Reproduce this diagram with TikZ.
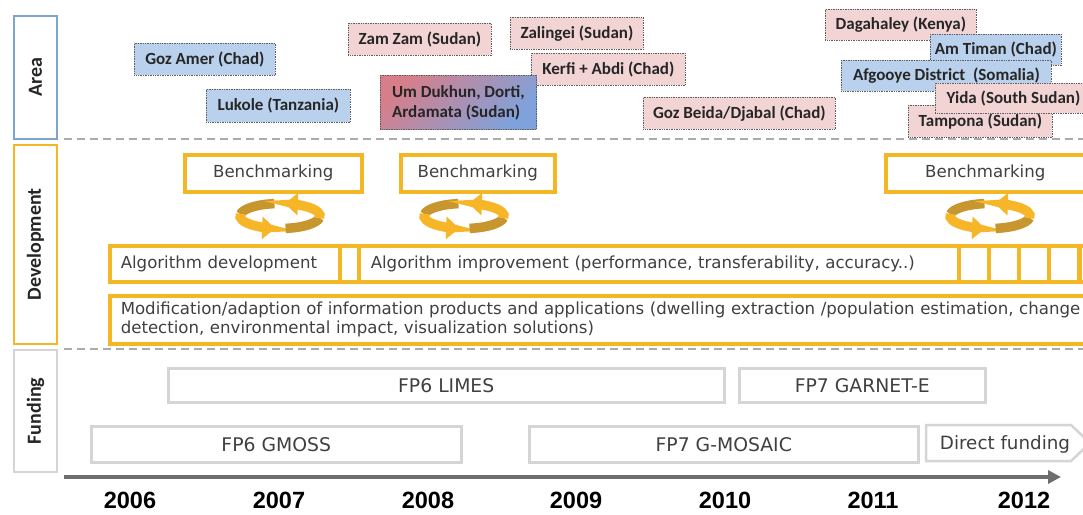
\documentclass[tikz,border=0pt]{standalone}
\usepackage{fontspec}
\setmainfont{DejaVu Sans}
\newfontfamily\calfont{Carlito}
\newfontfamily\yearfont{Liberation Sans}
\usetikzlibrary{arrows.meta}
\definecolor{areablue}{HTML}{7DA5CD}
\definecolor{devyel}{HTML}{F5B626}
\definecolor{fundgray}{HTML}{D5D5D5}
\definecolor{sepgray}{HTML}{ABABAB}
\definecolor{bluefill}{HTML}{B9D1EC}
\definecolor{pinkfill}{HTML}{F2D4D4}
\definecolor{boxedge}{HTML}{5E5E5E}
\definecolor{txtgray}{HTML}{404040}
\definecolor{axgray}{HTML}{6E6E6E}
\definecolor{cycdark}{HTML}{C8962E}
\definecolor{cyclight}{HTML}{F6B628}
\definecolor{udred}{HTML}{D67F8A}
\definecolor{udblue}{HTML}{7FA2DC}
\tikzset{
  lbl/.style={draw, line width=2.5pt, fill=white, rotate=90, inner sep=0pt,
    font=\calfont\bfseries\fontsize{20}{24}\selectfont, text=black!85},
  site/.style={draw=boxedge, dash pattern=on 1pt off 0.7pt, line width=0.8pt, inner sep=0pt, anchor=north west,
    font=\calfont\bfseries\fontsize{17}{20}\selectfont, text=black!85},
  bluesite/.style={site, fill=bluefill},
  pinksite/.style={site, fill=pinkfill},
  devbox/.style={draw=devyel, line width=3.5pt, fill=white, inner sep=0pt, anchor=north west,
    font=\fontsize{16.6}{19}\selectfont, text=txtgray},
  fundbox/.style={draw=fundgray, line width=2.5pt, fill=white, inner sep=0pt, anchor=north west,
    font=\fontsize{18.8}{22}\selectfont, text=txtgray},
  sepline/.style={draw=sepgray, line width=2pt, dash pattern=on 8pt off 5pt},
  yearlbl/.style={font=\yearfont\bfseries\fontsize{23.5}{26}\selectfont, text=black},
  band/.style={line width=9.5pt},
  cyc/.pic={
    \draw[band, cycdark] (262:40 and 12.5) arc[start angle=262, end angle=188, x radius=40, y radius=12.5];
    \draw[band, cyclight, -{Triangle[length=13pt,width=22pt]}] (190:40 and 12.5) arc[start angle=190, end angle=97, x radius=40, y radius=12.5];
    \draw[band, cycdark] (82:40 and 12.5) arc[start angle=82, end angle=8, x radius=40, y radius=12.5];
    \draw[band, cyclight, -{Triangle[length=13pt,width=22pt]}] (10:40 and 12.5) arc[start angle=10, end angle=-83, x radius=40, y radius=12.5];
  }
}
\begin{document}
\begin{tikzpicture}[x=1pt,y=-1pt]
\useasboundingbox (0,0) rectangle (1083,514);
\clip (0,0) rectangle (1083,514);
\fill[white] (0,0) rectangle (1083,514);

% row labels
\node[lbl, draw=areablue, minimum width=123pt, minimum height=43pt] (area) at (35.5,77.5) {Area};
\node[lbl, draw=devyel, minimum width=199pt, minimum height=43pt] (dev) at (35.5,244.5) {Development};
\node[lbl, draw=fundgray, minimum width=122pt, minimum height=43pt] (fund) at (35.5,411) {Funding};

% separators
\coordinate (s1a) at (64,139); \coordinate (s1b) at (1083,139);
\coordinate (s2a) at (64,349); \coordinate (s2b) at (1083,349);
\draw[sepline] (s1a) -- (s1b);
\draw[sepline] (s2a) -- (s2b);

% area sites
\node[bluesite, minimum width=141pt, minimum height=32pt] (gozamer) at (134,43) {Goz Amer (Chad)};
\node[bluesite, minimum width=144pt, minimum height=33pt] (lukole) at (206,89) {Lukole (Tanzania)};
\node[pinksite, minimum width=143pt, minimum height=32pt] (zamzam) at (348,23) {Zam Zam (Sudan)};
\node[pinksite, minimum width=133pt, minimum height=32pt] (zalingei) at (510,17) {Zalingei (Sudan)};
\node[pinksite, minimum width=154pt, minimum height=32pt] (kerfi) at (531,53) {Kerfi + Abdi (Chad)};
\node[site, left color=udred, right color=udblue, shading angle=45, minimum width=156pt, minimum height=54pt, align=left] (umdukhun) at (380,75) {Um Dukhun, Dorti,\\Ardamata (Sudan)};
\node[pinksite, minimum width=192pt, minimum height=32pt] (gozbeida) at (643,97) {Goz Beida/Djabal (Chad)};
\node[pinksite, minimum width=151pt, minimum height=31pt] (dagahaley) at (825,9) {Dagahaley (Kenya)};
\node[bluesite, minimum width=131pt, minimum height=31pt] (amtiman) at (930,34) {Am Timan (Chad)};
\node[bluesite, minimum width=210pt, minimum height=31pt] (afgooye) at (841,60) {Afgooye District~ (Somalia)};
\node[pinksite, minimum width=144pt, minimum height=32pt] (tampona) at (908,105) {Tampona (Sudan)};
\node[pinksite, minimum width=156pt, minimum height=30pt] (yida) at (935,83) {Yida (South Sudan)};

% development
\node[devbox, minimum width=177pt, minimum height=37pt] (bench1) at (183,153) {Benchmarking};
\node[devbox, minimum width=154pt, minimum height=37pt] (bench2) at (399,153) {Benchmarking};
\node[devbox, minimum width=199pt, minimum height=37pt] (bench3) at (884,153) {Benchmarking};
\pic at (280,216) {cyc};
\pic at (464,216) {cyc};
\pic at (990,216) {cyc};

\node[devbox, minimum width=230pt, minimum height=36pt, text width=208pt, align=left] (algdev) at (108,244) {Algorithm development};
\node[devbox, minimum width=19pt, minimum height=36pt] (gap1) at (338,244) {};
\node[devbox, minimum width=600pt, minimum height=36pt, text width=576pt, align=left] (algimp) at (357,244) {Algorithm improvement (performance, transferability, accuracy..)};
\node[devbox, minimum width=30pt, minimum height=36pt] (sb1) at (957,244) {};
\node[devbox, minimum width=30pt, minimum height=36pt] (sb2) at (987,244) {};
\node[devbox, minimum width=30pt, minimum height=36pt] (sb3) at (1017,244) {};
\node[devbox, minimum width=30pt, minimum height=36pt] (sb4) at (1047,244) {};
\node[devbox, minimum width=30pt, minimum height=36pt] (sb5) at (1078,244) {};
\node[devbox, minimum width=992pt, minimum height=48pt, text width=970pt, align=left] (modif) at (108,294)
  {Modification/adaption of information products and applications (dwelling extraction /population estimation, change\\detection, environmental impact, visualization solutions)};

% funding
\node[fundbox, minimum width=556pt, minimum height=34pt] (limes) at (167,367) {FP6 LIMES};
\node[fundbox, minimum width=246pt, minimum height=34pt] (garnet) at (738,367) {FP7 GARNET-E};
\node[fundbox, minimum width=370pt, minimum height=36pt] (gmoss) at (90,425) {FP6 GMOSS};
\node[fundbox, minimum width=389pt, minimum height=36pt] (gmosaic) at (528,425) {FP7 G-MOSAIC};
\draw[draw=fundgray, line width=2.5pt, fill=white] (926,425) -- (1071,425) -- (1090,443) -- (1071,461) -- (926,461) -- cycle;
\node[font=\fontsize{18.3}{22}\selectfont, text=txtgray] (direct) at (1005,444) {Direct funding};

% time axis
\coordinate (ax0) at (64,477); \coordinate (ax1) at (1061,477);
\draw[axgray, line width=4pt, -{Triangle[length=13pt,width=13pt]}] (ax0) -- (ax1);
\node[yearlbl] (y2006) at (130,500) {2006};
\node[yearlbl] (y2007) at (279,500) {2007};
\node[yearlbl] (y2008) at (428,500) {2008};
\node[yearlbl] (y2009) at (576,500) {2009};
\node[yearlbl] (y2010) at (725,500) {2010};
\node[yearlbl] (y2011) at (873,500) {2011};
\node[yearlbl] (y2012) at (1024,500) {2012};
\end{tikzpicture}
\end{document}
